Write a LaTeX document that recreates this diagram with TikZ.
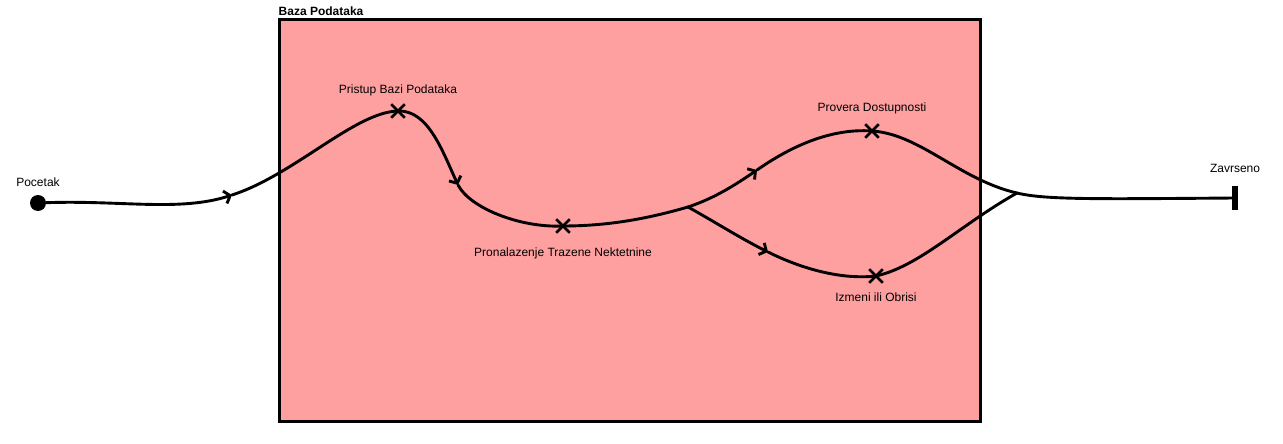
\documentclass[tikz,border=0pt]{standalone}
\usepackage{fontspec}
\setmainfont{Liberation Sans}
\usetikzlibrary{positioning,shapes.misc,arrows.meta}
\definecolor{dbpink}{RGB}{255,160,160}
\tikzset{
  >={Straight Barb[length=5.5pt,width=13pt]},
  flow/.style={draw, line width=2.9pt, line cap=round},
  stepmark/.style={cross out, draw, line width=2.6pt, minimum size=11pt, inner sep=0pt},
  lbl/.style={font=\fontsize{12}{14}\selectfont, inner sep=1pt},
  dbbox/.style={draw, fill=dbpink, line width=3pt, minimum width=701pt,
                minimum height=401pt, inner sep=0pt}
}

\begin{document}
\begin{tikzpicture}[x=1pt,y=-1pt]
\useasboundingbox (0,0) rectangle (1283,444);
% the database frame
\node[dbbox] (baza) at (629.5,220.5) {};
\node[lbl, font=\bfseries\fontsize{12}{14}\selectfont, anchor=south west] (bazaLbl)
  at ([yshift=2pt]baza.north west) {Baza Podataka};
% start and end
\node[circle, fill, minimum size=16pt, inner sep=0pt] (start) at (38,203) {};
\node[lbl, above=7pt of start] (startLbl) {Pocetak};
\node[fill, minimum width=6pt, minimum height=24pt, inner sep=0pt] (end) at (1235,198) {};
\node[lbl, above=12pt of end] (endLbl) {Zavrseno};
% steps
\node[stepmark] (pristup) at (398,111) {};
\node[stepmark] (pronal) at (563,226) {};
\node[stepmark] (provera) at (872,131) {};
\node[stepmark] (izmeni) at (876,276) {};
\node[lbl, above=7pt of pristup] (pristupLbl) {Pristup Bazi Podataka};
\node[lbl, below=14pt of pronal] (pronalLbl) {Pronalazenje Trazene Nektetnine};
\node[lbl, above=9pt of provera] (proveraLbl) {Provera Dostupnosti};
\node[lbl, below=9pt of izmeni] (izmeniLbl) {Izmeni ili Obrisi};
% where the path splits and meets again
\coordinate (fork) at (688,207);
\coordinate (join) at (1017,193);
% arrow positions
\coordinate (a1) at (232,195);
\coordinate (a2) at (458,185);
\coordinate (a3) at (757,170);
\coordinate (a4) at (768,252);
% main flow
\draw[flow,->] (start) .. controls (120,200) and (180,212) .. (a1);
\draw[flow] (a1) .. controls (294,175) and (355,112) .. (pristup.center);
\draw[flow,->] (pristup.center) .. controls (428,110) and (442,150) .. (a2);
\draw[flow] (a2) .. controls (470,208) and (520,228) .. (pronal.center);
\draw[flow] (pronal.center) .. controls (610,226) and (650,218) .. (fork);
% upper branch
\draw[flow,->] (fork) .. controls (715,198) and (735,185) .. (a3);
\draw[flow] (a3) .. controls (790,147) and (830,128) .. (provera.center);
\draw[flow] (provera.center) .. controls (920,134) and (960,180) .. (join);
% lower branch
\draw[flow,->] (fork) .. controls (715,222) and (740,238) .. (a4);
\draw[flow] (a4) .. controls (800,268) and (840,280) .. (izmeni.center);
\draw[flow] (izmeni.center) .. controls (920,266) and (960,225) .. (join);
% to the end
\draw[flow] (join) .. controls (1045,200) and (1100,199) .. (end.center);
\end{tikzpicture}
\end{document}
